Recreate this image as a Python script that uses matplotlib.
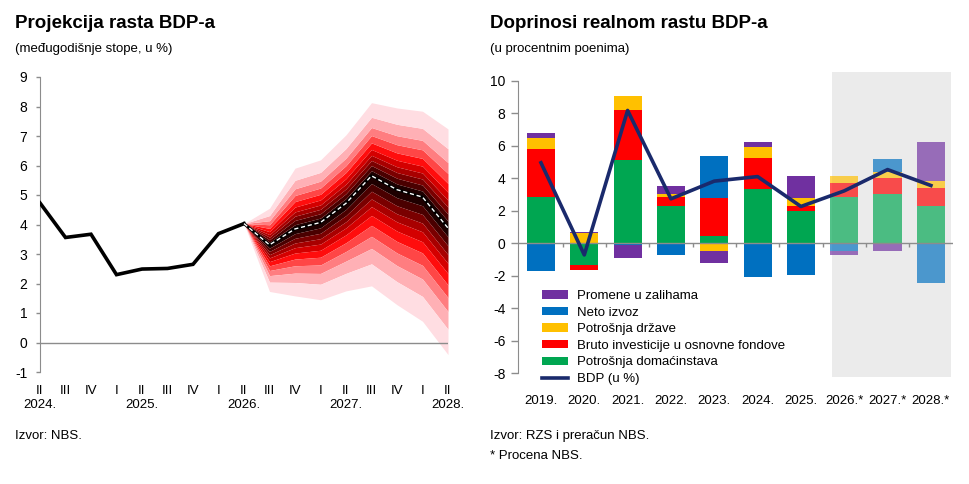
import matplotlib
matplotlib.use("Agg")
import matplotlib.pyplot as plt
from matplotlib.patches import Patch, Rectangle
from matplotlib.lines import Line2D
from matplotlib.colors import to_rgba
from matplotlib import font_manager
import numpy as np

plt.rcParams['font.family'] = ['Liberation Sans', 'DejaVu Sans']
plt.rcParams['axes.unicode_minus'] = False

# ---------------- data: left chart ----------------
quarter_labels = ['II', 'III', 'IV', 'I', 'II', 'III', 'IV', 'I', 'II',
                  'III', 'IV', 'I', 'II', 'III', 'IV', 'I', 'II']
year_labels = {0: '2024.', 4: '2025.', 8: '2026.', 12: '2027.', 16: '2028.'}
gdp_hist = [4.73, 3.56, 3.67, 2.30, 2.49, 2.51, 2.65, 3.69, 4.03]      # 2024Q2..2026Q2
gdp_proj = [4.03, 3.31, 3.85, 4.07, 4.72, 5.65, 5.18, 4.93, 3.88]      # 2026Q2..2028Q2
fan_upper = [4.03, 4.55, 5.91, 6.19, 7.04, 8.13, 7.95, 7.84, 7.24]
fan_lower = [4.03, 1.73, 1.58, 1.45, 1.75, 1.92, 1.28, 0.72, -0.41]
band_share = [0.07, 0.14, 0.21, 0.28, 0.36, 0.45, 0.55, 0.66, 0.80, 1.00]

# ---------------- data: right chart ----------------
years = ['2019.', '2020.', '2021.', '2022.', '2023.', '2024.', '2025.',
         '2026.*', '2027.*', '2028.*']
households = [2.83, -1.35, 5.15, 2.32, 0.43, 3.35, 2.01, 2.83, 3.04, 2.32]
investment = [2.98, -0.27, 3.05, 0.55, 2.34, 1.90, 0.27, 0.88, 0.96, 1.06]
government = [0.67, 0.60, 0.85, 0.17, -0.45, 0.70, 0.51, 0.41, 0.37, 0.42]
net_exports = [-1.74, 0.00, -0.10, -0.70, 2.57, -2.05, -1.93, -0.49, 0.80, -2.46]
inventories = [0.29, 0.12, -0.80, 0.45, -0.78, 0.27, 1.33, -0.22, -0.47, 2.40]
gdp_growth = [4.95, -0.72, 8.17, 2.73, 3.82, 4.10, 2.26, 3.22, 4.53, 3.55]
n_forecast = 3

# ---------------- styles ----------------
fan_colors = ['#1e0000', '#4a0000', '#7a0000', '#a80000', '#d40000',
              '#ff0d0d', '#ff4646', '#ff7d80', '#ffb0b5', '#ffdde2']
c_green, c_red, c_yellow, c_blue, c_purple = '#00a651', '#ff0000', '#ffc000', '#0070c0', '#7030a0'
navy = '#1a2a6c'
axis_gray = '#8c8c8c'

W, H = 970, 484
fig = plt.figure(figsize=(W / 100, H / 100), dpi=100)

def fx(px):
    return px / W

def fy(py):
    return 1 - py / H

# ================= LEFT =================
axL = fig.add_axes([fx(40), fy(372), fx(448 - 40), (372 - 77) / H])
xh = np.arange(len(gdp_hist))
xp = np.arange(len(gdp_hist) - 1, len(gdp_hist) - 1 + len(gdp_proj))
c = np.array(gdp_proj)
up = np.array(fan_upper)
lo = np.array(fan_lower)
prev_u = c.copy()
prev_l = c.copy()
for k, s in enumerate(band_share):
    eu = c + s * (up - c)
    el = c - s * (c - lo)
    col = fan_colors[k]
    if k == 0:
        axL.fill_between(xp, el, eu, color=col, lw=0, zorder=2)
    else:
        axL.fill_between(xp, prev_u, eu, color=col, lw=0, zorder=2)
        axL.fill_between(xp, el, prev_l, color=col, lw=0, zorder=2)
    prev_u, prev_l = eu, el

axL.axhline(0, color=axis_gray, lw=1.0, zorder=3)
axL.plot(xh, gdp_hist, color='black', lw=2.6, zorder=5, solid_joinstyle='miter')
axL.plot(xp, gdp_proj, color='black', lw=2.2, zorder=5)
axL.plot(xp, gdp_proj, color='white', lw=1.0, ls=(0, (3, 2)), zorder=6)

axL.set_xlim(0, 16)
axL.set_ylim(-1, 9)
axL.set_yticks(range(-1, 10))
axL.set_yticklabels([str(v) for v in range(-1, 10)])
axL.set_xticks(range(17))
axL.set_xticklabels([q + ('\n' + year_labels[i] if i in year_labels else '')
                     for i, q in enumerate(quarter_labels)], linespacing=1.3)
axL.tick_params(axis='x', length=0, pad=9, labelsize=9.5)
axL.tick_params(axis='y', length=3, width=1, color=axis_gray, pad=6, labelsize=10)
for sp in ['top', 'right', 'bottom']:
    axL.spines[sp].set_visible(False)
axL.spines['left'].set_color(axis_gray)
axL.set_facecolor('none')

# ================= RIGHT =================
axR = fig.add_axes([fx(518), fy(373.2), fx(953 - 518), (373.2 - 80.7) / H])
x = np.arange(len(years))
axR.set_xlim(-0.53, 9.51)
axR.set_ylim(-8, 10)
axR.add_patch(Rectangle((6.71, -8.26), 9.47 - 6.71, 10.52 + 8.26,
                        facecolor='#ebebeb', edgecolor='none', zorder=0, clip_on=False))

series = [(households, c_green), (investment, c_red), (government, c_yellow),
          (net_exports, c_blue), (inventories, c_purple)]
pos_base = np.zeros(len(years))
neg_base = np.zeros(len(years))
first_fc = len(years) - n_forecast
for vals, colr in series:
    v = np.array(vals)
    bottoms = np.where(v >= 0, pos_base, neg_base)
    cols = [to_rgba(colr, 0.68 if i >= first_fc else 1.0) for i in range(len(years))]
    axR.bar(x, v, width=0.65, bottom=bottoms, color=cols, lw=0, zorder=2)
    pos_base = pos_base + np.where(v >= 0, v, 0)
    neg_base = neg_base + np.where(v < 0, v, 0)

axR.axhline(0, color=axis_gray, lw=1.0, zorder=3)
axR.vlines(np.arange(len(years) - 1) + 0.5, -0.25, 0, color=axis_gray, lw=1.0, zorder=3)
axR.plot(x, gdp_growth, color=navy, lw=2.6, zorder=5)

axR.set_yticks(range(-8, 11, 2))
axR.set_yticklabels([str(v) for v in range(-8, 11, 2)])
axR.set_xticks(x)
axR.set_xticklabels(years)
axR.tick_params(axis='x', length=0, pad=16, labelsize=9.5)
axR.tick_params(axis='y', length=5, width=1, color=axis_gray, pad=4, labelsize=10)
for sp in ['top', 'right', 'bottom']:
    axR.spines[sp].set_visible(False)
axR.spines['left'].set_color(axis_gray)
axR.set_facecolor('none')

handles = [Patch(facecolor=c_purple), Patch(facecolor=c_blue), Patch(facecolor=c_yellow),
           Patch(facecolor=c_red), Patch(facecolor=c_green),
           Line2D([0], [0], color=navy, lw=2.6)]
labels = ['Promene u zalihama', 'Neto izvoz', 'Potrošnja države',
          'Bruto investicije u osnovne fondove', 'Potrošnja domaćinstava', 'BDP (u %)']
fig.legend(handles, labels, loc='upper left', bbox_to_anchor=(fx(542), fy(290)),
           bbox_transform=fig.transFigure, frameon=False, fontsize=9.5,
           handlelength=2.0, handleheight=0.6, labelspacing=0.35, handletextpad=0.68,
           borderpad=0, borderaxespad=0)

# ================= TEXTS =================
fam_names = {f.name for f in font_manager.fontManager.ttflist}
if 'Liberation Sans Narrow' in fam_names:
    title_kw = dict(family=['Liberation Sans Narrow', 'DejaVu Sans'], fontsize=15)
else:
    title_kw = dict(family=['Liberation Sans', 'DejaVu Sans'], fontsize=13.5)
fig.text(fx(15), fy(28), 'Projekcija rasta BDP-a', fontweight='bold', va='baseline', **title_kw)
fig.text(fx(15), fy(52), '(međugodišnje stope, u %)', fontsize=9.5, va='baseline')
fig.text(fx(490), fy(28), 'Doprinosi realnom rastu BDP-a', fontweight='bold', va='baseline', **title_kw)
fig.text(fx(490), fy(52), '(u procentnim poenima)', fontsize=9.5, va='baseline')
fig.text(fx(15), fy(439), 'Izvor: NBS.', fontsize=9.5, va='baseline')
fig.text(fx(490), fy(439), 'Izvor: RZS i preračun NBS.', fontsize=9.5, va='baseline')
fig.text(fx(490), fy(459), '* Procena NBS.', fontsize=9.5, va='baseline')

fig.savefig('out.png', dpi=100)
